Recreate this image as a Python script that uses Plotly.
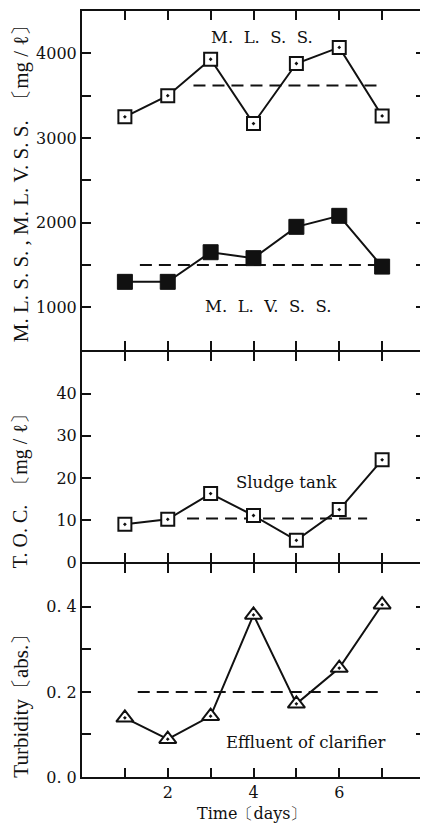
import plotly.graph_objects as go
from plotly.subplots import make_subplots

# ---------------- data ----------------
days = [1, 2, 3, 4, 5, 6, 7]
mlss = [3250, 3500, 3930, 3170, 3880, 4070, 3260]
mlvss = [1300, 1300, 1650, 1580, 1950, 2080, 1480]
toc_sludge = [9.0, 10.2, 16.3, 11.1, 5.2, 12.5, 24.3]
turbidity = [0.139, 0.089, 0.143, 0.381, 0.172, 0.256, 0.405]

# average (dashed) lines: [start day, end day] and level
mlss_avg_x = [2.6, 6.9]
mlss_avg = 3620
mlvss_avg_x = [1.35, 6.9]
mlvss_avg = 1500
toc_avg_x = [2.45, 6.65]
toc_avg = 10.4
turb_avg_x = [1.3, 6.9]
turb_avg = 0.2

x_tickvals = [1, 2, 3, 4, 5, 6, 7]
x_ticktext = ["", "2", "", "4", "", "6", ""]
y1_tickvals = [1000, 1500, 2000, 2500, 3000, 3500, 4000]
y1_ticktext = ["1000", "", "2000", "", "3000", "", "4000"]
y2_tickvals = [0, 10, 20, 30, 40]
y2_ticktext = ["0", "10", "20", "30", "40"]
y3_tickvals = [0, 0.1, 0.2, 0.3, 0.4]
y3_ticktext = ["0. 0", "", "0. 2", "", "0. 4"]

FONT = "DejaVu Serif"
TFONT = "Liberation Serif"
BLACK = "#111111"
NB = "\u00a0"

# the page body has an 8px margin: compensate so the frame sits where it should
FIG_W, FIG_H = 420, 816
M_L, M_R, M_T, M_B = 74, 1, 2, 47
PH = FIG_H - M_T - M_B  # 767 px plot area height

fig = make_subplots(rows=3, cols=1, shared_xaxes=True, vertical_spacing=0.01)

line = dict(color=BLACK, width=2)
dash_line = dict(color=BLACK, width=2, dash="12px,7px")

# top panel
fig.add_trace(go.Scatter(x=mlss_avg_x, y=[mlss_avg] * 2, mode="lines", line=dash_line), row=1, col=1)
fig.add_trace(go.Scatter(x=mlvss_avg_x, y=[mlvss_avg] * 2, mode="lines", line=dash_line), row=1, col=1)
fig.add_trace(go.Scatter(x=days, y=mlss, mode="lines+markers", line=line,
                         marker=dict(symbol="square-dot", size=13, color="white",
                                     line=dict(color=BLACK, width=2))), row=1, col=1)
fig.add_trace(go.Scatter(x=days, y=mlvss, mode="lines+markers", line=line,
                         marker=dict(symbol="square", size=15, color=BLACK,
                                     line=dict(color=BLACK, width=1))), row=1, col=1)
# middle panel
fig.add_trace(go.Scatter(x=toc_avg_x, y=[toc_avg] * 2, mode="lines", line=dash_line), row=2, col=1)
fig.add_trace(go.Scatter(x=days, y=toc_sludge, mode="lines+markers", line=line,
                         marker=dict(symbol="square-dot", size=13, color="white",
                                     line=dict(color=BLACK, width=2))), row=2, col=1)
# bottom panel
fig.add_trace(go.Scatter(x=turb_avg_x, y=[turb_avg] * 2, mode="lines", line=dash_line), row=3, col=1)
fig.add_trace(go.Scatter(x=days, y=turbidity, mode="lines+markers", line=line,
                         marker=dict(symbol="triangle-up-dot", size=15, color="white",
                                     line=dict(color=BLACK, width=2))), row=3, col=1)

axis_common = dict(showline=True, linewidth=2, linecolor=BLACK, mirror="ticks",
                   ticks="inside", ticklen=9, tickwidth=2, tickcolor=BLACK,
                   showgrid=False, zeroline=False,
                   tickfont=dict(family=FONT, size=16, color=BLACK))

for r in (1, 2, 3):
    fig.update_xaxes(range=[0, 8], tickvals=x_tickvals, ticktext=x_ticktext,
                     showticklabels=(r == 3), row=r, col=1, **axis_common)

# panel boundaries (px from top of plot area); 1px gaps so the two frame lines coincide
b1, b2 = 340, 553
dom_top = [(PH - (b1 - 1)) / PH, 1.0]
dom_mid = [(PH - (b2 - 1)) / PH, (PH - (b1 + 1)) / PH]
dom_bot = [0.0, (PH - (b2 + 1)) / PH]

fig.update_yaxes(range=[500, 4500], tickvals=y1_tickvals, ticktext=y1_ticktext,
                 domain=dom_top, row=1, col=1, **axis_common)
fig.update_yaxes(range=[0, 50], tickvals=y2_tickvals, ticktext=y2_ticktext,
                 domain=dom_mid, row=2, col=1, **axis_common)
fig.update_yaxes(range=[0, 0.5], tickvals=y3_tickvals, ticktext=y3_ticktext,
                 domain=dom_bot, row=3, col=1, **axis_common)

af = dict(family=FONT, size=16.5, color=BLACK)
tf = dict(family=TFONT, size=21, color=BLACK)
sp2 = NB + NB
annotations = [
    dict(text=sp2.join(["M.", "L.", "S.", "S."]), x=4.2, y=4190, xref="x", yref="y",
         showarrow=False, font=af),
    dict(text=sp2.join(["M.", "L.", "V.", "S.", "S."]), x=4.35, y=1010, xref="x", yref="y",
         showarrow=False, font=af),
    dict(text="Sludge tank", x=4.77, y=18.9, xref="x2", yref="y2", showarrow=False, font=af),
    dict(text="Effluent of clarifier", x=5.23, y=0.082, xref="x3", yref="y3",
         showarrow=False, font=af),
    dict(text="M. L. S. S. , M. L. V. S. S.  〔mg / ℓ〕".replace(" ", NB),
         x=-0.177, y=0.782, xref="paper", yref="paper",
         textangle=-90, showarrow=False, font=tf,
         xanchor="center", yanchor="middle"),
    dict(text="T. O. C.  〔mg / ℓ〕".replace(" ", NB), x=-0.177, y=0.380,
         xref="paper", yref="paper", textangle=-90, showarrow=False,
         font=dict(family=TFONT, size=20, color=BLACK), xanchor="center", yanchor="middle"),
    dict(text="Turbidity〔abs.〕", x=-0.177, y=0.100, xref="paper", yref="paper",
         textangle=-90, showarrow=False, font=tf, xanchor="center", yanchor="middle"),
    dict(text="Time〔days〕", x=0.493, y=-0.047, xref="paper", yref="paper",
         showarrow=False, font=dict(family=FONT, size=16, color=BLACK),
         xanchor="center", yanchor="middle"),
]

fig.update_layout(width=FIG_W, height=FIG_H, showlegend=False,
                  margin=dict(l=M_L, r=M_R, t=M_T, b=M_B),
                  plot_bgcolor="white", paper_bgcolor="white",
                  annotations=annotations)

fig.write_html("out.html")
